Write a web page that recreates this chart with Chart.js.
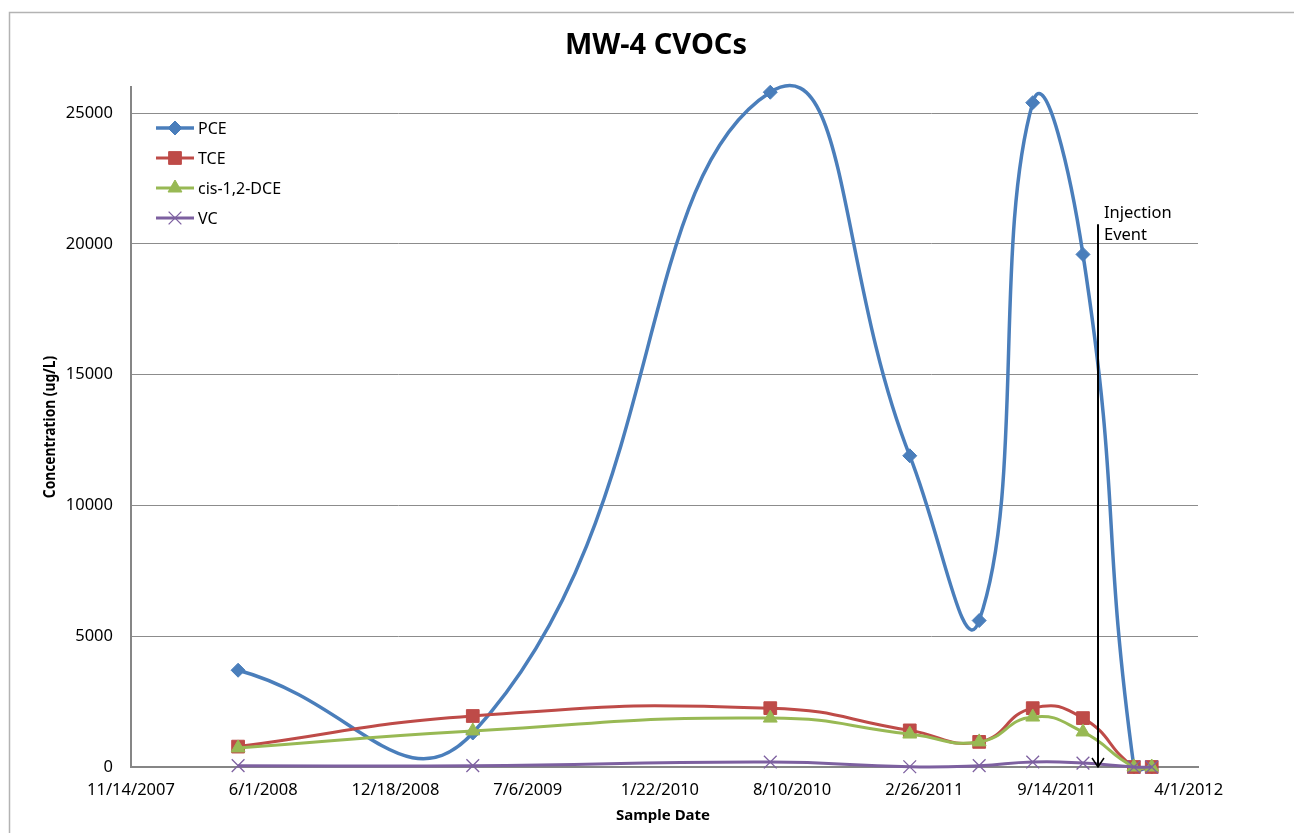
<!DOCTYPE html>
<html>
<head>
<meta charset="utf-8">
<title>MW-4 CVOCs</title>
<script src="https://cdn.jsdelivr.net/npm/chart.js@4.4.1/dist/chart.umd.min.js"></script>
<style>
  html, body { margin: 0; padding: 0; background: #fff; }
  #wrap { width: 1294px; height: 833px; }
</style>
</head>
<body>
<div id="wrap"><canvas id="chart" width="1294" height="833"></canvas></div>
<script>
// Sample dates and concentrations (ug/L)
const sampleDates = ['2008-04-24', '2009-04-14', '2010-07-08', '2011-02-04', '2011-05-20',
                     '2011-08-09', '2011-10-24', '2012-01-09', '2012-02-05'];
const pceValues = [3700, 1300, 25800, 11900, 5600, 25400, 19600, 0, 0];
const tceValues = [780, 1950, 2250, 1400, 960, 2250, 1870, 0, 0];
const dceValues = [730, 1380, 1870, 1260, 960, 1910, 1340, 0, 0];
const vcValues = [50, 50, 190, 10, 50, 190, 150, 0, 0];

// Axis ticks
const xTickDates = ['2007-11-14', '2008-06-01', '2008-12-18', '2009-07-06', '2010-01-22',
                    '2010-08-10', '2011-02-26', '2011-09-14', '2012-04-01'];
const xTickLabels = ['11/14/2007', '6/1/2008', '12/18/2008', '7/6/2009', '1/22/2010',
                     '8/10/2010', '2/26/2011', '9/14/2011', '4/1/2012'];
const yTicks = [0, 5000, 10000, 15000, 20000, 25000];

// Injection event marker
const injectionDate = '2011-11-15';
const injectionArrowTop = 20750;

const FONT = "'Noto Sans', 'Open Sans', sans-serif";
const ORIGIN = Date.parse(xTickDates[0]);

function dayNum(s) {
    return (Date.parse(s) - ORIGIN) / 86400000;
}

function series(values) {
    return values.map((v, i) => ({ x: dayNum(sampleDates[i]), y: v }));
}

const seriesDefs = [
    { label: 'PCE', data: pceValues, color: '#4A7EBB', style: 'rectRot', radius: 7, width: 3.5 },
    { label: 'TCE', data: tceValues, color: '#BE4B48', style: 'rect', radius: 9, width: 3 },
    { label: 'cis-1,2-DCE', data: dceValues, color: '#98B954', style: 'triangle', radius: 8, width: 3 },
    { label: 'VC', data: vcValues, color: '#7D60A0', style: 'crossRot', radius: 9, width: 3 }
];

// Frame, titles, legend and injection arrow
const decorPlugin = {
    id: 'decor',
    beforeDraw(chart) {
        const ctx = chart.ctx;
        ctx.save();
        ctx.fillStyle = '#fff';
        ctx.fillRect(0, 0, chart.width, chart.height);
        ctx.strokeStyle = '#b3b3b3';
        ctx.lineWidth = 1.5;
        ctx.strokeRect(9.5, 12.5, 1400, 900);
        ctx.restore();
    },
    afterDraw(chart) {
        const ctx = chart.ctx;
        const xs = chart.scales.x, ys = chart.scales.y;
        ctx.save();
        ctx.fillStyle = '#000';

        // title
        ctx.font = 'bold 29px ' + FONT;
        ctx.textAlign = 'center';
        ctx.textBaseline = 'alphabetic';
        ctx.fillText('MW-4 CVOCs', 656, 54);

        // axis titles
        ctx.font = 'bold 15px ' + FONT;
        ctx.fillText('Sample Date', 663, 820);
        ctx.save();
        ctx.translate(50, 427);
        ctx.rotate(-Math.PI / 2);
        ctx.scale(0.86, 1);
        ctx.font = 'bold 16px ' + FONT;
        ctx.textBaseline = 'middle';
        ctx.fillText('Concentration (ug/L)', 0, 0);
        ctx.restore();

        // legend
        ctx.font = '16px ' + FONT;
        ctx.textAlign = 'left';
        ctx.textBaseline = 'middle';
        seriesDefs.forEach((s, i) => {
            const y = 128 + i * 30;
            ctx.strokeStyle = s.color;
            ctx.lineWidth = s.width;
            ctx.beginPath();
            ctx.moveTo(156, y);
            ctx.lineTo(194, y);
            ctx.stroke();
            ctx.fillStyle = s.color;
            ctx.lineWidth = s.style === 'crossRot' ? 1.3 : 1;
            Chart.helpers.drawPoint(ctx, { pointStyle: s.style, radius: s.radius, rotation: 0, borderWidth: ctx.lineWidth }, 175, y);
            ctx.fillStyle = '#000';
            ctx.fillText(s.label, 198, y + 1);
        });

        // injection event arrow
        const ix = Math.round(xs.getPixelForValue(dayNum(injectionDate)));
        const top = ys.getPixelForValue(injectionArrowTop);
        const bottom = ys.getPixelForValue(0);
        ctx.strokeStyle = '#000';
        ctx.lineWidth = 2;
        ctx.beginPath();
        ctx.moveTo(ix, top);
        ctx.lineTo(ix, bottom);
        ctx.stroke();
        ctx.lineWidth = 1.5;
        ctx.beginPath();
        ctx.moveTo(ix - 6, bottom - 9);
        ctx.lineTo(ix, bottom);
        ctx.lineTo(ix + 6, bottom - 9);
        ctx.stroke();
        ctx.fillStyle = '#000';
        ctx.font = '16.5px ' + FONT;
        ctx.textBaseline = 'alphabetic';
        ctx.fillText('Injection', ix + 6, top - 6);
        ctx.fillText('Event', ix + 6, top + 16);
        ctx.restore();
    }
};

const ctx = document.getElementById('chart').getContext('2d');
const chart = new Chart(ctx, {
    type: 'line',
    data: {
        datasets: seriesDefs.map((s, i) => ({
            label: s.label,
            data: series(s.data),
            borderColor: s.color,
            backgroundColor: s.color,
            borderWidth: s.width,
            pointStyle: s.style,
            pointRadius: s.radius,
            pointBorderWidth: s.style === 'crossRot' ? 1.3 : 1,
            pointBackgroundColor: s.color,
            pointBorderColor: s.color,
            tension: 0.5,
            fill: false,
            clip: false,
            order: seriesDefs.length - i
        }))
    },
    options: {
        responsive: false,
        animation: false,
        devicePixelRatio: 1,
        layout: { padding: { left: 0, top: 87, right: 96, bottom: 0 } },
        elements: { line: { capBezierPoints: false } },
        plugins: {
            legend: { display: false },
            title: { display: false },
            tooltip: { enabled: false }
        },
        scales: {
            x: {
                type: 'linear',
                min: 0,
                max: dayNum(xTickDates[xTickDates.length - 1]) + 14,
                afterBuildTicks: (axis) => {
                    axis.ticks = xTickDates.map(d => ({ value: dayNum(d) }));
                },
                afterFit: (axis) => { axis.height = 66; },
                grid: { display: false, drawTicks: false },
                border: { display: true, color: '#868686', width: 2 },
                ticks: {
                    autoSkip: false,
                    maxRotation: 0,
                    padding: 13,
                    color: '#000',
                    font: { family: FONT, size: 16.5 },
                    callback: (value, index) => xTickLabels[index]
                }
            },
            y: {
                min: 0,
                max: 26000,
                afterBuildTicks: (axis) => {
                    axis.ticks = yTicks.map(v => ({ value: v }));
                },
                afterFit: (axis) => { axis.width = 131; },
                grid: { color: '#8c8c8c', lineWidth: 1, drawTicks: false },
                border: { display: true, color: '#868686', width: 2 },
                ticks: {
                    padding: 18,
                    color: '#000',
                    font: { family: FONT, size: 16.5 },
                    callback: (value) => String(value)
                }
            }
        }
    },
    plugins: [decorPlugin]
});
</script>
</body>
</html>
